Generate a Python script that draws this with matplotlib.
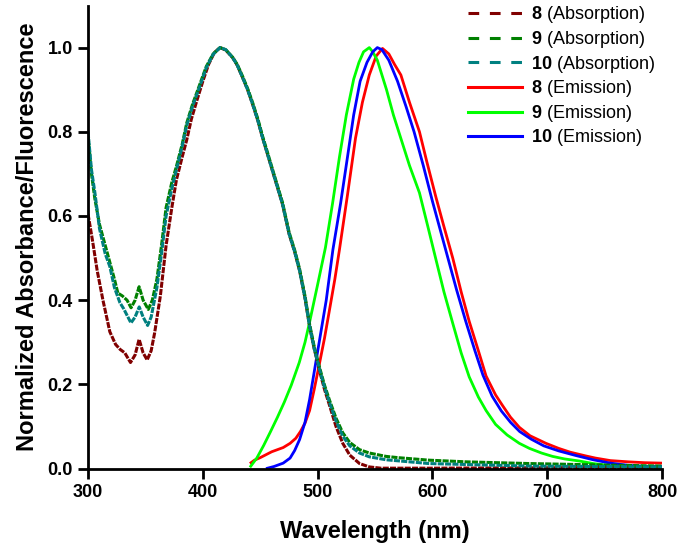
import numpy as np
import matplotlib
matplotlib.use("Agg")
import matplotlib.pyplot as plt
from matplotlib.lines import Line2D

plt.rcParams['font.family'] = ['Liberation Sans', 'DejaVu Sans']
plt.rcParams['mathtext.fontset'] = 'custom'
plt.rcParams['mathtext.rm'] = 'Liberation Sans'
plt.rcParams['mathtext.bf'] = 'Liberation Sans:bold'

# ---------------- data ----------------
abs8_wl = [300, 304, 308, 313, 319, 324, 328, 332, 337, 341, 344.5, 348, 351.5, 355, 358, 363, 368,
           373, 377, 382, 386, 390, 395, 400, 405, 410, 415, 420, 426, 430, 434.6, 439, 443.3, 448,
           452, 456, 460.7, 465, 469.4, 475.2, 480, 484.3, 489, 493, 497, 501.7, 506, 510.4, 516,
           521.9, 528, 536.5, 545, 555, 600, 700, 800]
abs8_val = [0.605, 0.54, 0.47, 0.40, 0.325, 0.295, 0.283, 0.275, 0.252, 0.27, 0.307, 0.275, 0.258, 0.28,
            0.322, 0.41, 0.53, 0.62, 0.686, 0.74, 0.781, 0.83, 0.876, 0.92, 0.96, 0.988, 1.0, 0.994,
            0.976, 0.958, 0.929, 0.9, 0.866, 0.826, 0.786, 0.75, 0.707, 0.668, 0.628, 0.557, 0.515,
            0.47, 0.405, 0.338, 0.285, 0.232, 0.188, 0.15, 0.10, 0.06, 0.032, 0.012, 0.004, 0.001,
            0.001, 0.002, 0.003]

abs9_wl = [300, 303, 306, 310, 315, 319, 323, 326, 330, 334, 337.5, 341, 344.5, 348, 352.5, 356, 360,
           364, 368, 373, 377, 382, 386, 391, 397, 403, 409, 415, 420, 426, 430, 434.6, 439, 443.3,
           448, 452, 456, 460.7, 465, 469.4, 475.2, 480, 484.3, 489, 493, 497, 501.7, 506, 510.4, 516,
           521.9, 528, 536.5, 545, 559.6, 570, 597, 630, 684, 740, 800]
abs9_val = [0.79, 0.70, 0.64, 0.58, 0.53, 0.49, 0.45, 0.417, 0.41, 0.40, 0.382, 0.40, 0.432, 0.40,
            0.378, 0.40, 0.45, 0.53, 0.62, 0.68, 0.718, 0.77, 0.821, 0.865, 0.91, 0.955, 0.985, 1.0,
            0.995, 0.977, 0.96, 0.932, 0.903, 0.87, 0.83, 0.79, 0.754, 0.711, 0.672, 0.632, 0.561,
            0.519, 0.474, 0.41, 0.343, 0.29, 0.24, 0.198, 0.162, 0.12, 0.085, 0.062, 0.045, 0.037,
            0.029, 0.026, 0.02, 0.016, 0.012, 0.009, 0.006]

abs10_wl = [300, 303, 306, 310, 315, 319, 323, 327.8, 331, 337.4, 341, 344.6, 348, 351.9, 355, 360,
            364, 368, 373, 377, 382, 386, 391, 397, 403, 409, 415, 420, 426, 430, 434.6, 439, 443.3,
            448, 452, 456, 460.7, 465, 469.4, 475.2, 480, 484.3, 489, 493, 497, 501.7, 506, 510.4,
            516, 521.9, 528, 536.5, 545, 559.6, 597, 684, 800]
abs10_val = [0.80, 0.71, 0.655, 0.57, 0.51, 0.48, 0.43, 0.394, 0.38, 0.346, 0.36, 0.384, 0.36, 0.34,
             0.36, 0.43, 0.51, 0.60, 0.665, 0.71, 0.765, 0.815, 0.86, 0.905, 0.952, 0.984, 1.0, 0.995,
             0.976, 0.958, 0.929, 0.9, 0.866, 0.826, 0.786, 0.75, 0.707, 0.668, 0.628, 0.557, 0.515,
             0.47, 0.405, 0.338, 0.285, 0.235, 0.193, 0.156, 0.113, 0.077, 0.054, 0.037, 0.028,
             0.021, 0.012, 0.006, 0.004]

em8_wl = [441, 445, 450, 455, 460, 465, 470, 476, 481, 485, 489, 493, 497, 501.7, 506, 510.4, 515,
          519, 526, 533, 539, 545, 551, 556.5, 562, 567, 572.5, 580, 588.7, 595, 603, 610, 617.7, 625,
          632, 640, 646.7, 655, 661, 668, 675.7, 685, 698.9, 710, 720, 733.7, 742, 755, 771, 785, 800]
em8_val = [0.012, 0.02, 0.026, 0.033, 0.04, 0.045, 0.05, 0.06, 0.072, 0.088, 0.108, 0.138, 0.188, 0.251,
           0.31, 0.378, 0.45, 0.52, 0.65, 0.785, 0.87, 0.935, 0.98, 0.998, 0.985, 0.96, 0.935, 0.87,
           0.80, 0.73, 0.645, 0.575, 0.5, 0.42, 0.35, 0.28, 0.22, 0.175, 0.15, 0.122, 0.098, 0.078,
           0.06, 0.048, 0.039, 0.03, 0.025, 0.019, 0.016, 0.014, 0.013]

em9_wl = [441, 447, 453, 459, 465, 471, 477, 484, 489, 493, 500.3, 506.8, 513, 519, 525, 531.4, 536,
          540, 545, 548, 552, 560, 566, 573, 580, 588.7, 596, 603.2, 610, 617.7, 625, 632, 640, 646.7,
          655, 665, 675.7, 684.5, 695, 704.6, 715, 728, 740, 755, 770, 785, 800]
em9_val = [0.003, 0.025, 0.055, 0.088, 0.122, 0.158, 0.198, 0.252, 0.3, 0.348, 0.441, 0.525, 0.63, 0.74,
           0.84, 0.925, 0.965, 0.99, 1.0, 0.99, 0.97, 0.90, 0.84, 0.78, 0.72, 0.655, 0.575, 0.495,
           0.42, 0.345, 0.275, 0.218, 0.17, 0.138, 0.105, 0.08, 0.06, 0.048, 0.037, 0.029, 0.023,
           0.018, 0.012, 0.007, 0.004, 0.003, 0.003]

em10_wl = [455, 462, 470, 476, 480, 484.3, 489, 493, 500.3, 507.5, 513.3, 520, 526, 531.4, 537, 543,
           548, 552, 556, 562, 569.6, 577, 584, 592, 600, 607, 614, 621, 629, 637, 644, 652, 660, 668,
           676, 686, 697, 710, 725, 740, 755, 770, 785, 800]
em10_val = [0.0, 0.005, 0.013, 0.025, 0.043, 0.069, 0.11, 0.164, 0.283, 0.40, 0.52, 0.63, 0.74, 0.84,
            0.92, 0.965, 0.99, 1.0, 0.995, 0.97, 0.92, 0.86, 0.80, 0.72, 0.635, 0.565, 0.495, 0.425,
            0.35, 0.28, 0.222, 0.172, 0.137, 0.11, 0.088, 0.07, 0.054, 0.042, 0.031, 0.021, 0.013,
            0.008, 0.005, 0.005]

labels = [r"$\mathbf{8}$ (Absorption)", r"$\mathbf{9}$ (Absorption)", r"$\mathbf{10}$ (Absorption)",
          r"$\mathbf{8}$ (Emission)", r"$\mathbf{9}$ (Emission)", r"$\mathbf{10}$ (Emission)"]
abs_colors = ['#800000', '#008000', '#008080']
em_colors = ['#FF0000', '#00FF00', '#0000FF']

# ---------------- plot ----------------
fig = plt.figure(figsize=(6.85, 5.5), dpi=100)
ax = fig.add_axes([0.1285, 0.148, 0.838, 0.842])

for wl, val, c in zip([em8_wl, em9_wl, em10_wl], [em8_val, em9_val, em10_val], em_colors):
    ax.plot(wl, val, color=c, lw=2.0, solid_capstyle='butt')
for wl, val, c in zip([abs8_wl, abs9_wl, abs10_wl], [abs8_val, abs9_val, abs10_val], abs_colors):
    ax.plot(wl, val, color=c, lw=2.2, linestyle=(0, (2.0, 0.4)))

handles = [Line2D([], [], color=c, lw=2.2, linestyle=(0, (3.5, 3.5))) for c in abs_colors] + \
          [Line2D([], [], color=c, lw=2.2) for c in em_colors]
leg = ax.legend(handles, labels, loc='upper right', bbox_to_anchor=(1.0, 1.018), frameon=False,
                fontsize=13, handlelength=3.0, handletextpad=0.5, labelspacing=0.2,
                borderaxespad=0.0)

ax.set_xlim(300, 800)
ax.set_ylim(0, 1.1)
ax.set_xticks([300, 400, 500, 600, 700, 800])
ax.set_yticks([0.0, 0.2, 0.4, 0.6, 0.8, 1.0])
ax.set_yticklabels(['0.0', '0.2', '0.4', '0.6', '0.8', '1.0'])
for s in ['top', 'right']:
    ax.spines[s].set_visible(False)
for s in ['left', 'bottom']:
    ax.spines[s].set_linewidth(2.0)
ax.tick_params(axis='both', direction='out', length=7, width=2.0, labelsize=13, pad=4)
for t in ax.get_xticklabels() + ax.get_yticklabels():
    t.set_fontweight('bold')

ax.set_xlabel('Wavelength (nm)', fontsize=17, fontweight='bold', labelpad=14)
ax.set_ylabel('Normalized Absorbance/Fluorescence', fontsize=17, fontweight='bold', labelpad=6)

fig.savefig('out.png', dpi=100)
